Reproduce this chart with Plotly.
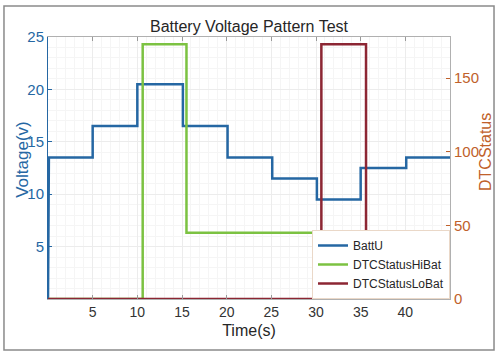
import plotly.graph_objects as go

# Data
batt_t = [0, 0.1, 5, 5, 10, 10, 15.1, 15.1, 20.1, 20.1, 25.1, 25.1, 30.1, 30.1, 35, 35, 40.1, 40.1, 45]
batt_v = [0, 13.5, 13.5, 16.5, 16.5, 20.5, 20.5, 16.5, 16.5, 13.5, 13.5, 11.5, 11.5, 9.5, 9.5, 12.5, 12.5, 13.5, 13.5]

hi_t = [0, 10.6, 10.6, 15.5, 15.5, 45]
hi_v = [0, 0, 173, 173, 45, 45]

lo_t = [0, 30.6, 30.6, 35.6, 35.6, 45]
lo_v = [0, 0, 173, 173, 45, 45]

x_ticks = [5, 10, 15, 20, 25, 30, 35, 40]
yl_ticks = [5, 10, 15, 20, 25]
yr_ticks = [0, 50, 100, 150]

BLUE = "#2567a3"
GREEN = "#7cc242"
RED = "#8c2633"
ORANGE = "#c0612b"
GRID = "#ececec"
MINOR = "#f5f5f5"

fig = go.Figure()
fig.add_trace(go.Scatter(x=batt_t, y=batt_v, mode="lines", name="BattU",
                         line=dict(color=BLUE, width=2.5), yaxis="y"))
fig.add_trace(go.Scatter(x=hi_t, y=hi_v, mode="lines", name="DTCStatusHiBat",
                         line=dict(color=GREEN, width=2.5), yaxis="y2"))
fig.add_trace(go.Scatter(x=lo_t, y=lo_v, mode="lines", name="DTCStatusLoBat",
                         line=dict(color=RED, width=2.5), yaxis="y2"))

font_family = "Liberation Sans, Arial, sans-serif"

fig.update_layout(
    width=502, height=355,
    margin=dict(l=48, r=52, t=37, b=56, autoexpand=False),
    paper_bgcolor="white", plot_bgcolor="white",
    font=dict(family=font_family, size=12, color="#333333"),
    title=dict(text="Battery Voltage Pattern Test", x=0.5, xref="paper", xanchor="center",
               y=1 - 26 / 355, yanchor="middle", font=dict(size=16, color="#262626")),
    xaxis=dict(range=[0, 45], tickvals=x_ticks, ticks="inside", ticklen=4, tickcolor="#999999",
               showgrid=True, gridcolor=GRID, gridwidth=1, automargin=False,
               minor=dict(dtick=1, showgrid=True, gridcolor=MINOR, ticks=""),
               showline=True, linecolor="#b0b0b0", mirror="ticks", zeroline=False,
               tickfont=dict(size=14, color="#333333"),
               title=dict(text="Time(s)", font=dict(size=16, color="#262626"), standoff=6)),
    yaxis=dict(range=[0, 25], tickvals=yl_ticks, ticks="inside", ticklen=4, tickcolor=BLUE,
               showgrid=True, gridcolor=GRID, automargin=False,
               minor=dict(dtick=1, showgrid=True, gridcolor=MINOR, ticks=""),
               showline=True, linecolor=BLUE, zeroline=False,
               tickfont=dict(size=15, color=BLUE)),
    yaxis2=dict(range=[0, 178], tickvals=yr_ticks, ticks="inside", ticklen=4, tickcolor=ORANGE,
                overlaying="y", side="right", showgrid=False, zeroline=False, automargin=False,
                showline=True, linecolor="#b0b0b0",
                tickfont=dict(size=15, color=ORANGE)),
    legend=dict(x=1, y=0, xanchor="right", yanchor="bottom",
                bgcolor="white", bordercolor="#ead8c8", borderwidth=1,
                font=dict(size=12, color="#262626"),
                tracegroupgap=0, itemwidth=30),
    showlegend=True,
    annotations=[
        dict(text="Voltage(v)", xref="paper", yref="paper", x=-0.0654, y=0.534,
             xanchor="center", yanchor="middle", textangle=-90, showarrow=False,
             font=dict(size=17, color=BLUE)),
        dict(text="DTCStatus", xref="paper", yref="paper", x=1.087, y=0.561,
             xanchor="center", yanchor="middle", textangle=-90, showarrow=False,
             font=dict(size=16, color=ORANGE)),
    ],
    shapes=[dict(type="rect", xref="paper", yref="paper",
                 x0=-0.1095, x1=1.1095, y0=-0.1947, y1=1.118,
                 line=dict(color="#8a8a8a", width=1.5), fillcolor="rgba(0,0,0,0)", layer="above")],
)

fig.write_html("out.html", config={"displayModeBar": False},
               post_script="document.body.style.margin='0';document.body.style.padding='0';document.body.style.overflow='hidden';")
